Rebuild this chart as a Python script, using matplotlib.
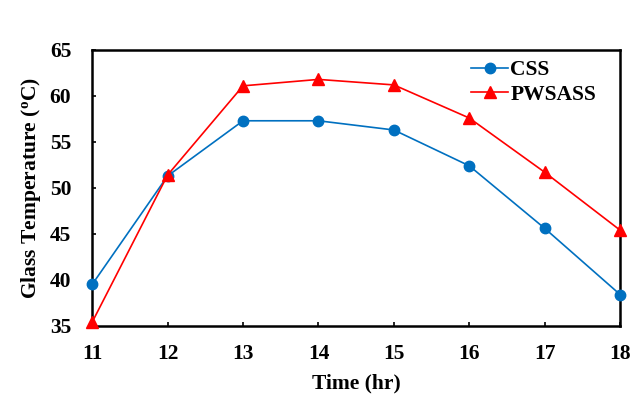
import matplotlib
matplotlib.use("Agg")
import matplotlib.pyplot as plt

hours = [11, 12, 13, 14, 15, 16, 17, 18]
css = [39.5, 51.3, 57.3, 57.3, 56.3, 52.4, 45.6, 38.4]
pwsass = [35.4, 51.4, 61.1, 61.8, 61.2, 57.6, 51.7, 45.4]

plt.rcParams['font.family'] = ['Liberation Serif', 'DejaVu Serif']
plt.rcParams['font.weight'] = 'bold'
plt.rcParams['mathtext.fontset'] = 'custom'
plt.rcParams['mathtext.rm'] = 'Liberation Serif:bold'
plt.rcParams['mathtext.bf'] = 'Liberation Serif:bold'
plt.rcParams['mathtext.it'] = 'Liberation Serif:bold'

fig = plt.figure(figsize=(6.4, 4.13), dpi=100)
ax = fig.add_axes([0.144, 0.211, 0.825, 0.668])

ax.plot(hours, css, color='#0070C0', marker='o', markersize=7.5, linewidth=1.2, label='CSS', clip_on=False, zorder=3)
ax.plot(hours, pwsass, color='#FF0000', marker='^', markersize=8, linewidth=1.2, label='PWSASS', clip_on=False, zorder=3)

ax.set_xlim(11, 18)
ax.set_ylim(35, 65)
ax.set_xticks(hours)
ax.set_yticks(range(35, 66, 5))
ax.tick_params(direction='in', length=3, width=1.2, labelsize=15.5)
ax.tick_params(axis='x', pad=13)
ax.tick_params(axis='y', pad=15)
for lbl in ax.get_xticklabels() + ax.get_yticklabels():
    lbl.set_fontweight('bold')
for s in ax.spines.values():
    s.set_linewidth(1.8)

ax.set_xlabel('Time (hr)', fontsize=15.5, fontweight='bold', labelpad=7)
ax.set_ylabel('Glass Temperature ($\\mathbf{^{o}}$C)', fontsize=15.5, fontweight='bold', labelpad=5)

leg = ax.legend(loc='upper left', frameon=False, fontsize=15.5, handlelength=1.72,
                bbox_to_anchor=(0.718, 0.963), borderaxespad=0, borderpad=0,
                labelspacing=0.2, handletextpad=0.1)
for t in leg.get_texts():
    t.set_fontweight('bold')

fig.savefig('out.png', dpi=100)
